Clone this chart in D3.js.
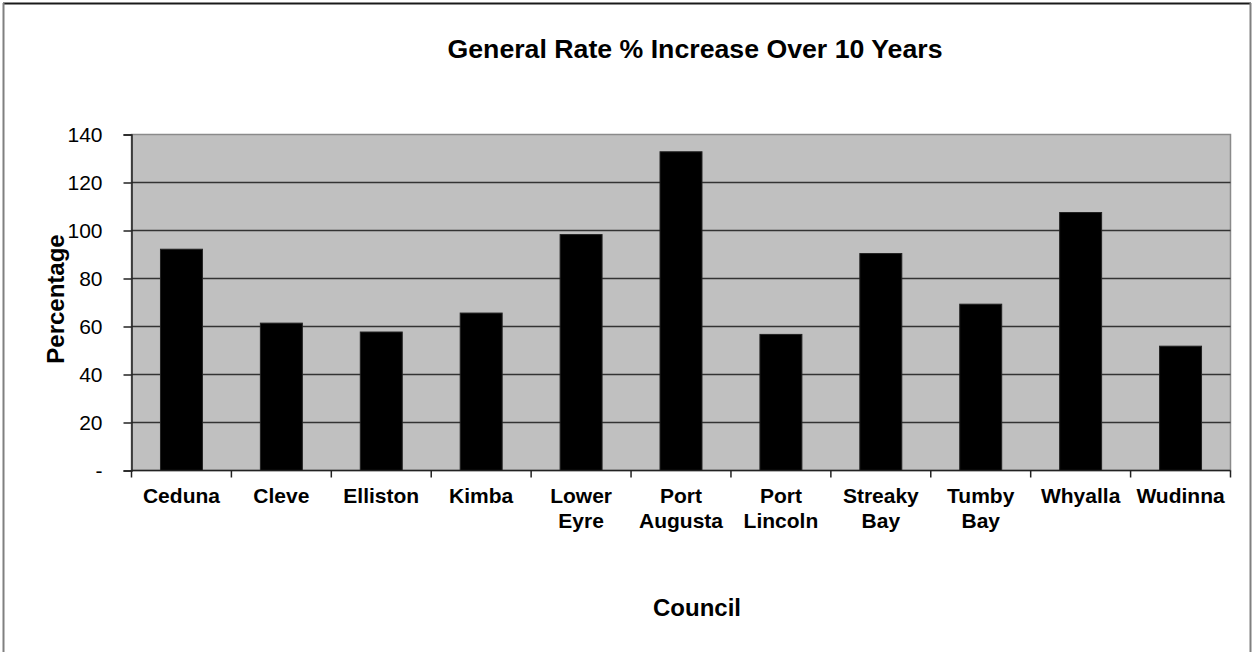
<!DOCTYPE html>
<html>
<head>
<meta charset="utf-8">
<script src="https://cdn.jsdelivr.net/npm/d3@7"></script>
<style>
  body { margin: 0; background: #fff; }
  svg { display: block; font-family: "Liberation Sans", Arial, sans-serif; }
</style>
</head>
<body>
<svg id="chart" width="1252" height="652"></svg>
<script>
// Data
const councils = ["Ceduna", "Cleve", "Elliston", "Kimba", "Lower Eyre", "Port Augusta",
    "Port Lincoln", "Streaky Bay", "Tumby Bay", "Whyalla", "Wudinna"];
const councilLines = [["Ceduna"], ["Cleve"], ["Elliston"], ["Kimba"], ["Lower", "Eyre"],
    ["Port", "Augusta"], ["Port", "Lincoln"], ["Streaky", "Bay"], ["Tumby", "Bay"],
    ["Whyalla"], ["Wudinna"]];
const increase = [92.2, 61.4, 57.7, 65.6, 98.3, 132.8, 56.7, 90.4, 69.3, 107.5, 51.8];
const yTicks = [0, 20, 40, 60, 80, 100, 120, 140];

const svg = d3.select("#chart");

// outer chart frame
svg.append("line").attr("x1", 3).attr("x2", 1251).attr("y1", 3.5).attr("y2", 3.5)
    .attr("stroke", "#1a1a1a").attr("stroke-width", 2);
svg.append("line").attr("x1", 3.5).attr("x2", 3.5).attr("y1", 3).attr("y2", 660)
    .attr("stroke", "#808080").attr("stroke-width", 2);
svg.append("line").attr("x1", 1250.5).attr("x2", 1250.5).attr("y1", 3).attr("y2", 660)
    .attr("stroke", "#808080").attr("stroke-width", 2);

const plot = { left: 131.5, right: 1230.5, top: 134.5, bottom: 470.5 };

const x = d3.scaleBand()
    .domain(councils)
    .range([plot.left, plot.right])
    .paddingInner(0.58)
    .paddingOuter(0.29);

const y = d3.scaleLinear()
    .domain([0, 140])
    .range([plot.bottom, plot.top]);

// plot background
svg.append("rect")
    .attr("x", plot.left).attr("y", plot.top)
    .attr("width", plot.right - plot.left).attr("height", plot.bottom - plot.top)
    .attr("fill", "#c0c0c0")
    .attr("stroke", "#8a8a8a").attr("stroke-width", 1.5);

// gridlines
svg.append("g")
    .selectAll("line")
    .data(yTicks.filter(d => d > 0 && d < 140))
    .join("line")
    .attr("x1", plot.left).attr("x2", plot.right)
    .attr("y1", d => y(d)).attr("y2", d => y(d))
    .attr("stroke", "#333").attr("stroke-width", 1.5);

// bars
svg.append("g")
    .selectAll("rect")
    .data(councils)
    .join("rect")
    .attr("x", d => x(d))
    .attr("y", (d, i) => y(increase[i]))
    .attr("width", x.bandwidth())
    .attr("height", (d, i) => y(0) - y(increase[i]))
    .attr("fill", "#000")
    .attr("stroke", "#222").attr("stroke-width", 1);

// y axis
const yAxis = svg.append("g")
    .attr("transform", `translate(${plot.left},0)`)
    .call(d3.axisLeft(y).tickValues(yTicks).tickSize(8).tickPadding(21)
        .tickFormat(d => d === 0 ? "-" : d));
yAxis.select(".domain").attr("stroke", "#222").attr("stroke-width", 1.5);
yAxis.selectAll(".tick line").attr("stroke", "#222").attr("stroke-width", 1.5);
yAxis.selectAll(".tick text")
    .attr("font-size", 21).attr("fill", "#000")
    .attr("font-family", "Liberation Sans, Arial, sans-serif");

// x axis: tick marks at category boundaries
const step = x.step();
const boundaries = councils.map((d, i) => plot.left + i * step);
boundaries.push(plot.right);
svg.append("line")
    .attr("x1", plot.left).attr("x2", plot.right)
    .attr("y1", plot.bottom).attr("y2", plot.bottom)
    .attr("stroke", "#222").attr("stroke-width", 1.5);
svg.append("g")
    .selectAll("line")
    .data(boundaries)
    .join("line")
    .attr("x1", d => d).attr("x2", d => d)
    .attr("y1", plot.bottom).attr("y2", plot.bottom + 7)
    .attr("stroke", "#222").attr("stroke-width", 1.5);

// category labels
const labels = svg.append("g")
    .selectAll("text")
    .data(councils)
    .join("text")
    .attr("text-anchor", "middle")
    .attr("font-size", 21)
    .attr("font-weight", "bold")
    .attr("transform", d => `translate(${x(d) + x.bandwidth() / 2},503)`);
labels.selectAll("tspan")
    .data((d, i) => councilLines[i])
    .join("tspan")
    .attr("x", 0)
    .attr("y", (d, i) => i * 25)
    .text(d => d);

// titles
svg.append("text")
    .attr("x", 695).attr("y", 58)
    .attr("text-anchor", "middle")
    .attr("font-size", 25).attr("font-weight", "bold")
    .attr("textLength", 495).attr("lengthAdjust", "spacingAndGlyphs")
    .text("General Rate % Increase Over 10 Years");

svg.append("text")
    .attr("x", 697).attr("y", 616)
    .attr("text-anchor", "middle")
    .attr("font-size", 24).attr("font-weight", "bold")
    .text("Council");

svg.append("text")
    .attr("transform", "translate(64,299) rotate(-90)")
    .attr("text-anchor", "middle")
    .attr("font-size", 24).attr("font-weight", "bold")
    .text("Percentage");
</script>
</body>
</html>
